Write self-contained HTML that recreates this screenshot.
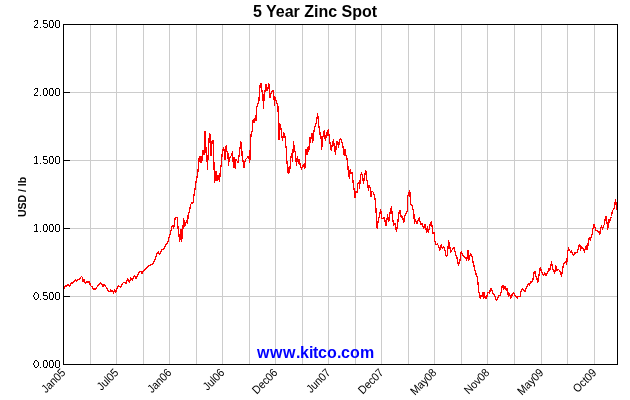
<!DOCTYPE html>
<html><head><meta charset="utf-8"><style>
html,body{margin:0;padding:0;background:#fff;width:630px;height:400px;overflow:hidden}
svg{display:block}
text{font-family:"Liberation Sans",Arial,sans-serif}
</style></head><body>
<svg width="630" height="400" viewBox="0 0 630 400">
<defs><filter id="bin" ><feComponentTransfer><feFuncA type="discrete" tableValues="0 1"/></feComponentTransfer></filter><filter id="gs" ><feOffset dx="0" dy="0"/></filter></defs>
<rect width="630" height="400" fill="#fff"/>
<text x="315" y="17" filter="url(#gs)" text-anchor="middle" font-weight="bold" font-size="16" fill="#000">5 Year Zinc Spot</text>
<g stroke="#cccccc" stroke-width="1" shape-rendering="crispEdges"><line x1="90.5" y1="25" x2="90.5" y2="364"/><line x1="116.5" y1="25" x2="116.5" y2="364"/><line x1="143.5" y1="25" x2="143.5" y2="364"/><line x1="169.5" y1="25" x2="169.5" y2="364"/><line x1="196.5" y1="25" x2="196.5" y2="364"/><line x1="222.5" y1="25" x2="222.5" y2="364"/><line x1="249.5" y1="25" x2="249.5" y2="364"/><line x1="275.5" y1="25" x2="275.5" y2="364"/><line x1="302.5" y1="25" x2="302.5" y2="364"/><line x1="328.5" y1="25" x2="328.5" y2="364"/><line x1="355.5" y1="25" x2="355.5" y2="364"/><line x1="381.5" y1="25" x2="381.5" y2="364"/><line x1="408.5" y1="25" x2="408.5" y2="364"/><line x1="434.5" y1="25" x2="434.5" y2="364"/><line x1="461.5" y1="25" x2="461.5" y2="364"/><line x1="487.5" y1="25" x2="487.5" y2="364"/><line x1="514.5" y1="25" x2="514.5" y2="364"/><line x1="541.5" y1="25" x2="541.5" y2="364"/><line x1="567.5" y1="25" x2="567.5" y2="364"/><line x1="594.5" y1="25" x2="594.5" y2="364"/><line x1="64" y1="92.5" x2="617" y2="92.5"/><line x1="64" y1="160.5" x2="617" y2="160.5"/><line x1="64" y1="228.5" x2="617" y2="228.5"/><line x1="64" y1="296.5" x2="617" y2="296.5"/></g>
<text filter="url(#gs)" x="257 270 283 296 300 309 313 318 327 337 341 350 360" y="358" font-weight="bold" font-size="16" fill="#0000ff">www.kitco.com</text>
<polyline points="63.5,288.5 64.25,288 65.4,286.1 66.9,285.75 68.4,284.6 69.9,286.1 71.4,283.1 72.5,283.5 74.4,280.5 75.5,279.75 76.6,281.25 78.1,279.75 79.6,279.4 81.35,276.4 82.6,277.5 83,281.25 84.1,279.4 85.25,283.5 86.4,281.6 87.9,282 89.4,281.6 90.5,285.75 92,286.5 93.5,289.1 95,289.1 96.5,287.6 98,285.75 99.5,283.5 100.3,283.1 101.5,284.25 103,286.1 103.75,284.6 105.25,286.1 107.1,288.4 108.6,291.75 109.75,291.75 110.9,289.9 112,291.75 112.75,291 113.5,293.25 114.6,289.9 115.75,292.5 116.9,288.4 118,286.1 119.1,286.1 120.6,287.25 122.5,283.5 124,282 125.9,283.5 127.75,278.6 128.9,281.25 129.6,282.4 130.75,277.9 132.25,280.1 133.4,277.5 134.9,276 136,278.25 137.5,275.6 138.5,273.9 139.5,272 141,271.25 142.1,273.9 143.25,270.9 144.75,270.1 147,267.9 149.25,265.6 151.9,264.1 153,263.75 154.1,261.1 155.6,258.1 157.1,253.6 158.25,252.1 159.4,254.4 160.5,252.5 162,249.1 163.1,249.5 164.6,247.25 165.7,244.3 167.4,243.2 169.1,237.6 170.7,232 171.9,226.3 173,225.2 173.6,228 174.7,221.9 175.2,217.4 176.4,217.4 177.3,217.4 177.7,225.2 178.6,232 179.7,241 180.6,237 181.1,229.2 181.6,241 182.5,233.1 183.7,219 184.8,226.3 186.5,220.7 187.6,223.5 188.2,214 189.3,211.7 190.5,205 191.75,202.5 193,203.1 193.6,197.5 194.9,190 196.1,181.25 197.4,175 198.6,166.25 199.2,157 200,156.5 200.5,160 201,163 201.8,162 202.5,151 203.5,151 204,155 205,131.5 205.5,132 206,152 207,157 207.4,169.4 208.5,148 209.5,133.5 210,134 210.5,145 211,156 211.5,147 212.2,140.5 213.2,140.5 213.5,157 214,164 214.5,182 215.5,172 216,181 216.5,172 217.5,180 218.5,176 219.5,181.5 220.5,168 221.5,164 222,155 223.5,147.5 224.5,151 225.1,160 226.2,145.5 227,152 227.8,151.5 228.5,165 229.2,159 230.5,157 231.5,155 232.5,151.5 233.5,167.5 234.5,158 235.2,168.5 236,159 237,161 238,163 239,156 240,148 240.8,141.5 241.5,145 242.3,158 243,161 244,168 245,161 246,159 247,158 248,156 249,158 249.8,162.5 250.5,139 251.5,132 252.5,131 253,120 254,119 254.5,122.5 255.5,116 256,121 256.5,108 258,104 258.8,102 259.5,93 260,86 260.8,84 261.5,83.5 262,92 262.8,93 263.5,108 264.2,95 265,91 265.8,84.5 266.5,86 267,91 268,88 268.8,83.5 269.5,91 270,98 271,93 272,91.5 273,90.5 273.8,95 274.5,105 275.2,98 276,100 277,104 277.8,104.5 278.5,118 279,140 280,124 281,129 282.5,140.5 283.8,133 284.5,134 285.1,136.8 285.7,144.6 286.3,149.1 286.8,160.4 287.6,167.2 288.3,173.9 289.1,167.2 289.6,172.8 290.8,158.2 291.7,153.6 292.4,161 293.6,141.3 294.4,151.4 295.3,152 296.4,164.9 297.5,156.5 298.4,163.8 299.2,159.8 300.3,166 301.5,168.9 302.6,166 303.7,164.9 304.8,168.9 306,149.7 307.1,154.8 307.6,147.5 308.8,151.4 309.8,138 310.5,142 311.5,134 312.2,133.5 312.8,142 313.8,132 315,126 316,124 316.8,120 317.5,113.5 318.2,119 319,127 319.8,134 320.5,132.5 321.2,139 321.7,149.1 322.5,138 323.5,135 324.2,131 324.8,137 325.5,140 326.5,133 327.2,135 328.3,129.5 329.2,136 330.2,144.6 331.3,150.3 332.5,143 333.5,140 334.5,149 335.5,154 336.5,142 337.5,142 338.5,147 339.5,140 340.5,138.5 341.5,140 342.5,145 343.5,149 344.2,155 345,149 345.5,154.5 346.5,156.5 347.5,162 348,168 348.5,174 349.5,178 350.2,169.5 351,174 352,172.5 353,181 353.8,189 354.5,189 355,198 356,191 357,193 357.8,184 359,182.5 359.5,188 360.5,176 361.5,172.5 362.5,176 363.5,183 364.5,176 365.8,170.5 366.5,178 367.5,183 368.5,190 369.5,185.5 370.5,189 371,197 372,191 373,192 374,194 374.8,198 375.5,201 376,210 377.25,228.75 378.1,221.25 379.4,216.25 380.6,209.4 381.9,218.1 383.1,218.75 384.4,217.5 385.6,225 386.25,225.6 387.5,215 388.75,221.25 390,212.5 391.5,206.9 392.5,217.5 393.75,225 395,223.75 396.5,231.25 397.75,222.5 399,212.5 400,210.6 401.25,217.5 402.5,216.25 403.75,222.5 405,215.6 406.25,212.5 407.25,211.25 407.75,196.25 408.75,193.1 409.75,190.6 410.6,203.75 411.9,205 412.5,208.1 413.75,211.25 414.4,223.75 415.6,220 416.9,223.75 418.1,220 419.4,218.1 419.9,221.25 421.1,224.4 422.4,223.75 423.6,228.75 424.9,224.4 425.75,228.1 426.75,231.9 427.4,226.25 428.25,232.5 429.25,228.75 430.25,223.75 431.5,221.9 432.4,228.75 433,233.75 434,232.5 434.9,241.25 436.1,245 437.4,243.75 438.6,246.25 439.9,250 441.1,245 442.4,248.75 443.6,246.9 444.9,250 446.1,256.25 447.4,255 448.6,240.6 449.9,247.5 450.75,252.5 452,250 453,248.1 454.25,247.5 455.5,253.75 456.75,256.9 457.5,260 458.4,264.9 459.8,261.5 461.2,251.9 462.6,255.3 463.9,256 465.3,258 466.7,260.1 468,250.5 469,260.1 470.4,253.9 471.8,255.3 472.9,261.5 474.2,267 475.6,272.5 476.3,275.25 476.9,276.6 477.6,278.75 478.3,286.6 478.7,292.8 479.4,292.3 480.25,298.9 481,295.4 481.8,296.3 482.7,292.3 483.3,298 484.2,292.3 485.1,298 485.9,298.9 486.8,297.1 487.7,292.8 488.6,292.3 489.4,293.2 490.3,290.1 491.2,288.4 492.1,291 493,293.2 493.8,294.5 494.7,296.3 495.6,298 496.5,300.2 497.3,298.9 498.2,297.1 499.1,295.4 500.4,295 501.3,291 502.1,286.2 503,285.8 503.7,289.3 504.6,286.6 505.5,286.6 506.1,290.1 507,288.8 507.8,291.9 508.3,296.3 509.2,293.6 510,295.4 510.7,298 511.6,296.3 512.5,293.6 513.5,292.3 514.8,295 516.2,296.3 517.5,298 518.3,296.3 519.2,296.7 520.1,296.3 520.6,292.8 521.7,290 522.8,288.9 523.9,290 525.1,291.7 526.2,287.7 527.3,286 528.4,283.8 529.6,284.9 530.7,282.1 531.8,282.1 533,279.3 534.1,272.5 534.9,271.4 535.8,276.5 536.9,278.2 537.8,282.7 538.6,277 539.4,272.5 540.3,267.5 541.4,271.4 542.5,273.6 543.6,275.3 544.8,272.5 545.9,275.3 547,273.6 548.2,270.8 549.1,268 549.8,270.3 551,264.6 551.5,261.8 552.7,269.1 553.8,270.8 554.7,273.6 555.8,265.8 556.9,270.3 558.1,269.1 559.2,270.3 560.3,272.5 561.4,275.9 562.6,269.7 563.7,263.5 564.8,262.4 565.9,261.3 566.7,264.1 567.3,256.8 567.9,251.1 568.5,248 569.5,250 570.5,252 571.5,251 572.5,254.5 573.5,255.5 574.5,253 576,253 577.2,252 578,249.5 579,245 579.8,244.5 580.5,250 581.5,246.5 582.5,247.5 583.5,249 584.5,252 585.5,247 586.2,246 587,250 587.8,247 588.5,239.5 589.5,237.5 590.2,240.5 591.2,237 592,235 592.8,229.5 594,224.5 595,227 596,231 597,230 598,231.5 599,232 599.8,234 600.5,229 601.5,226 602.5,229 603.5,226 604.5,224 605.5,216.5 606.2,216.5 607,223 607.8,229 608.5,220 609.5,222 610.5,218 611.5,216.5 612.5,210.5 613.5,209.5 614.5,208 615.5,199.5 616.2,205 616.8,209.5" fill="none" stroke="#ff0000" stroke-width="1.3" stroke-linejoin="round" shape-rendering="crispEdges"/>
<rect x="63.5" y="24.5" width="554" height="340" fill="none" stroke="#000" stroke-width="1" shape-rendering="crispEdges"/>
<g stroke="#000" stroke-width="1" shape-rendering="crispEdges"><line x1="63" y1="92.5" x2="70" y2="92.5"/><line x1="63" y1="160.5" x2="70" y2="160.5"/><line x1="63" y1="228.5" x2="70" y2="228.5"/><line x1="63" y1="296.5" x2="70" y2="296.5"/></g>
<g font-size="11" fill="#000" text-anchor="end" filter="url(#bin)"><text x="60.5" y="28">2.500</text><text x="60.5" y="96">2.000</text><text x="60.5" y="164">1.500</text><text x="60.5" y="232">1.000</text><text x="60.5" y="300">0.500</text><text x="60.5" y="368">0.000</text></g>
<g font-size="10.5" fill="#000" text-anchor="end" filter="url(#gs)"><text transform="translate(66.2,373.4) rotate(-45) scale(1,1.1)">Jan05</text><text transform="translate(119.2,373.4) rotate(-45) scale(1,1.1)">Jul05</text><text transform="translate(172.2,373.4) rotate(-45) scale(1,1.1)">Jan06</text><text transform="translate(225.2,373.4) rotate(-45) scale(1,1.1)">Jul06</text><text transform="translate(278.2,373.4) rotate(-45) scale(1,1.1)">Dec06</text><text transform="translate(331.2,373.4) rotate(-45) scale(1,1.1)">Jun07</text><text transform="translate(384.2,373.4) rotate(-45) scale(1,1.1)">Dec07</text><text transform="translate(437.2,373.4) rotate(-45) scale(1,1.1)">May08</text><text transform="translate(490.2,373.4) rotate(-45) scale(1,1.1)">Nov08</text><text transform="translate(544.2,373.4) rotate(-45) scale(1,1.1)">May09</text><text transform="translate(597.2,373.4) rotate(-45) scale(1,1.1)">Oct09</text></g>
<text filter="url(#gs)" transform="translate(26,197) rotate(-90)" text-anchor="middle" font-weight="bold" font-size="10.5" fill="#000">USD / lb</text>
</svg>
</body></html>
